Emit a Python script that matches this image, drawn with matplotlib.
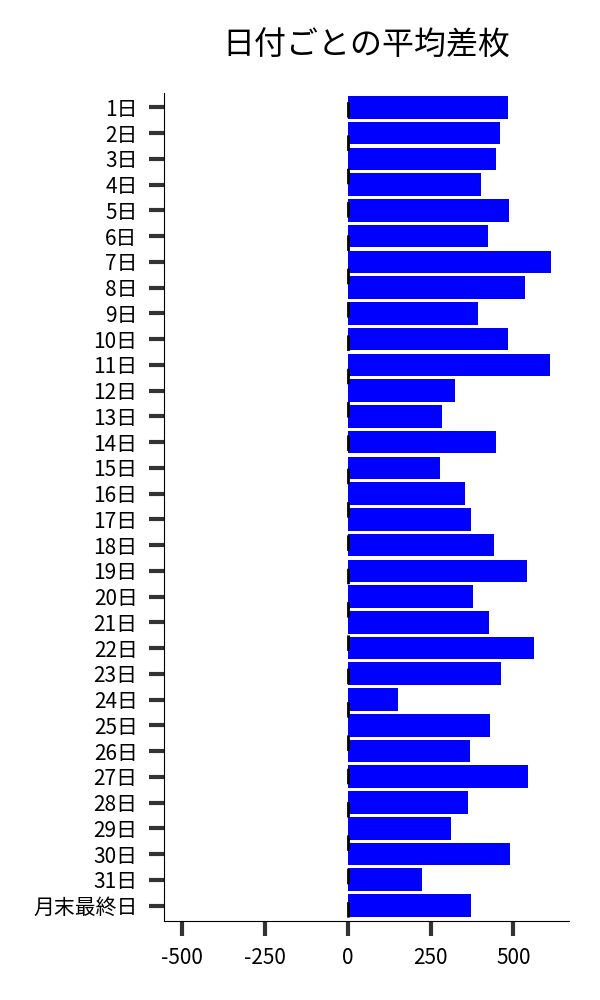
import matplotlib
matplotlib.use('Agg')
import matplotlib.pyplot as plt

plt.rcParams['font.family'] = ['Noto Sans CJK JP', 'DejaVu Sans']

# ラベルと値
days = [f'{i}日' for i in range(1, 32)] + ['月末最終日']
avg_diff = [484, 460, 447, 402, 487, 423, 614, 535, 393, 484,
            611, 324, 286, 447, 280, 353, 371, 441, 540, 377,
            426, 562, 463, 151, 429, 369, 544, 363, 311, 490,
            224, 372]
xticks = [-500, -250, 0, 250, 500]

fig = plt.figure(figsize=(6, 10), dpi=100)
ax = fig.add_axes([0.2733, 0.079, 0.675, 0.8283])

ax.barh(range(len(days)), avg_diff, height=0.88, color='#0000FF', zorder=2)
# 0の位置に破線
ax.axvline(0, color='black', linewidth=2, linestyle=(10.6, (5.6, 6.4)), zorder=3)

ax.set_yticks(range(len(days)))
ax.set_yticklabels(days)
ax.set_ylim(31.6, -0.57)
ax.set_xticks(xticks)
ax.set_xticklabels([str(t) for t in xticks])
ax.set_xlim(-555, 668)

ax.tick_params(axis='both', length=11, width=3, color='#333333', labelsize=15, pad=8)
ax.spines['top'].set_visible(False)
ax.spines['right'].set_visible(False)

ax.set_title('日付ごとの平均差枚', fontsize=23, pad=27)

fig.savefig('out.png', dpi=100)
